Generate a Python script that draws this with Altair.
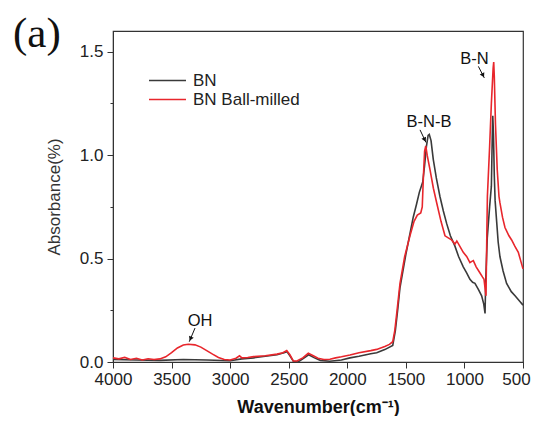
import altair as alt
import pandas as pd

# ---- data ----
bn_w = [4000, 3800, 3600, 3400, 3200, 3000, 2900, 2800, 2700, 2600, 2540, 2515, 2490, 2460,
        2420, 2380, 2330, 2280, 2230, 2150, 2050, 1977, 1900, 1800, 1749, 1680, 1612, 1590,
        1570, 1550, 1500, 1465, 1437, 1410, 1385, 1356, 1340, 1325, 1310, 1300, 1285, 1266,
        1240, 1209, 1180, 1152, 1120, 1081, 1050, 1010, 980, 953, 930, 910, 880, 853, 835,
        824, 818, 805, 785, 770, 762, 758, 752, 745, 738, 725, 712, 697, 670, 640, 600, 568,
        530, 500]
bn_a = [0.012, 0.010, 0.008, 0.012, 0.010, 0.006, 0.015, 0.020, 0.028, 0.035, 0.045, 0.050,
        0.030, 0.003, 0.000, 0.015, 0.035, 0.020, 0.008, 0.004, 0.010, 0.020, 0.028, 0.040,
        0.045, 0.060, 0.080, 0.150, 0.250, 0.360, 0.520, 0.620, 0.700, 0.760, 0.820, 0.870,
        0.950, 1.040, 1.095, 1.100, 1.070, 0.980, 0.890, 0.800, 0.730, 0.670, 0.610, 0.560,
        0.510, 0.460, 0.430, 0.400, 0.385, 0.380, 0.350, 0.320, 0.280, 0.235, 0.400, 0.600,
        0.750, 0.850, 1.100, 1.190, 1.100, 0.900, 0.780, 0.680, 0.580, 0.510, 0.440, 0.380,
        0.340, 0.320, 0.295, 0.275]

bm_w = [4000, 3950, 3900, 3850, 3800, 3750, 3700, 3650, 3600, 3550, 3500, 3450, 3400, 3357,
        3300, 3250, 3200, 3150, 3100, 3050, 3000, 2950, 2920, 2900, 2850, 2800, 2700, 2600,
        2550, 2517, 2490, 2461, 2430, 2380, 2333, 2290, 2250, 2200, 2148, 2100, 2050, 1977,
        1900, 1800, 1749, 1680, 1640, 1612, 1595, 1575, 1550, 1510, 1465, 1430, 1402, 1373,
        1360, 1350, 1340, 1330, 1318, 1294, 1265, 1237, 1200, 1166, 1138, 1110, 1081, 1065,
        1040, 1010, 981, 953, 940, 924, 900, 867, 845, 833, 816, 808, 804, 785, 770, 755, 750,
        745, 735, 720, 705, 697, 675, 654, 620, 597, 570, 540, 520, 500]
bm_a = [0.020, 0.015, 0.022, 0.012, 0.018, 0.010, 0.016, 0.012, 0.015, 0.025, 0.045, 0.068,
        0.082, 0.086, 0.083, 0.072, 0.055, 0.038, 0.022, 0.012, 0.010, 0.018, 0.030, 0.020,
        0.022, 0.026, 0.030, 0.038, 0.045, 0.055, 0.035, 0.005, 0.005, 0.020, 0.042, 0.030,
        0.018, 0.012, 0.013, 0.020, 0.025, 0.034, 0.045, 0.055, 0.061, 0.075, 0.085, 0.098,
        0.150, 0.250, 0.380, 0.510, 0.610, 0.680, 0.710, 0.720, 0.750, 0.900, 1.020, 1.045,
        1.000, 0.930, 0.840, 0.770, 0.680, 0.610, 0.600, 0.590, 0.570, 0.585, 0.560, 0.530,
        0.510, 0.480, 0.485, 0.490, 0.460, 0.430, 0.410, 0.400, 0.320, 0.650, 0.800, 1.040,
        1.250, 1.420, 1.450, 1.380, 1.150, 0.930, 0.800, 0.770, 0.700, 0.650, 0.610, 0.590,
        0.560, 0.530, 0.490, 0.450]

series_names = ["BN", "BN Ball-milled"]
series_colors = ["#3a3a3a", "#e8262c"]

ann_text = ["OH", "B-N-B", "B-N"]
ann_w = [3257, 1302, 914]
ann_a = [0.198, 1.159, 1.463]

arr_w1 = [3300, 1379, 881]
arr_a1 = [0.164, 1.122, 1.429]
arr_w2 = [3349, 1328, 830]
arr_a2 = [0.098, 1.061, 1.373]
arr_angle = [202.6, 154.7, 152.7]

x_ticks = list(range(4000, 499, -250))
y_ticks = [0, 0.25, 0.5, 0.75, 1.0, 1.25, 1.5]

# ---- tables ----
df = pd.concat([
    pd.DataFrame({"w": bn_w, "a": bn_a, "s": series_names[0]}),
    pd.DataFrame({"w": bm_w, "a": bm_a, "s": series_names[1]}),
])
ann = pd.DataFrame({"t": ann_text, "w": ann_w, "a": ann_a})
arr = pd.DataFrame({"w1": arr_w1, "a1": arr_a1, "w2": arr_w2, "a2": arr_a2, "ang": arr_angle})
arr["hw"] = arr.w1 + (arr.w2 - arr.w1) * 0.78
arr["ha"] = arr.a1 + (arr.a2 - arr.a1) * 0.78

FONT = "Liberation Sans"

xscale = alt.Scale(domain=[500, 4000], reverse=True, nice=False, zero=False)
yscale = alt.Scale(domain=[0, 1.6], nice=False, zero=False)

xaxis = alt.Axis(
    values=x_ticks,
    labelExpr="datum.value % 500 === 0 ? format(datum.value, 'd') : ''",
    tickSize={"condition": {"test": "datum.value % 500 === 0", "value": 6}, "value": 3},
    labelOffset={"condition": {"test": "datum.value === 500", "value": -7}, "value": 0},
    labelPadding=3, labelFont=FONT, labelFontSize=17, labelColor="#222",
    title="Wavenumber(cm\u207b\u00b9)", titleFont=FONT, titleFontSize=18,
    titleFontWeight="bold", titleColor="#111", titlePadding=11,
    domainColor="#333", tickColor="#333", grid=False, labelFlush=False,
)
yaxis = alt.Axis(
    values=y_ticks,
    labelExpr="datum.value % 0.5 === 0 ? format(datum.value, '.1f') : ''",
    tickSize={"condition": {"test": "datum.value % 0.5 === 0", "value": 6}, "value": 3},
    labelPadding=4, labelFont=FONT, labelFontSize=17, labelColor="#222",
    title="Absorbance(%)", titleFont=FONT, titleFontSize=17, titleFontWeight="normal",
    titleColor="#333", titlePadding=16,
    domainColor="#333", tickColor="#333", grid=False,
)

lines = alt.Chart(df).mark_line(strokeWidth=1.6).encode(
    x=alt.X("w:Q", scale=xscale, axis=xaxis),
    y=alt.Y("a:Q", scale=yscale, axis=yaxis),
    color=alt.Color("s:N", scale=alt.Scale(domain=series_names, range=series_colors),
                    legend=alt.Legend(title=None, orient="none", legendX=44, legendY=39,
                                      symbolType="M-2,0H2", symbolSize=342,
                                      symbolStrokeWidth=1.6, labelFont=FONT,
                                      labelFontSize=17, labelColor="#222",
                                      labelOffset=15, rowPadding=-2)),
    order="idx:Q",
).transform_window(idx="row_number()", groupby=["s"])

texts = alt.Chart(ann).mark_text(font=FONT, fontSize=16.5, color="#111",
                                 baseline="middle").encode(
    x=alt.X("w:Q", scale=xscale), y=alt.Y("a:Q", scale=yscale), text="t:N")

shafts = alt.Chart(arr).mark_rule(color="#111", strokeWidth=1).encode(
    x=alt.X("w1:Q", scale=xscale), y=alt.Y("a1:Q", scale=yscale),
    x2="w2:Q", y2="a2:Q")

heads = alt.Chart(arr).mark_point(shape="triangle-up", filled=True, color="#111",
                                  size=26, opacity=1).encode(
    x=alt.X("hw:Q", scale=xscale), y=alt.Y("ha:Q", scale=yscale),
    angle=alt.Angle("ang:Q", scale=None))

label = alt.Chart(pd.DataFrame({"t": ["(a)"]})).mark_text(
    font="Liberation Serif", fontSize=43, align="left", baseline="alphabetic",
    color="#111").encode(x=alt.value(-100), y=alt.value(16), text="t:N")

chart = alt.layer(lines, texts, shafts, heads, label).properties(
    width=410, height=331,
    padding={"left": 5, "top": 5, "right": 0, "bottom": 0},
).configure_view(stroke="#333", strokeWidth=1.2)

chart.save("out.html", embed_options={"renderer": "svg", "actions": False})
